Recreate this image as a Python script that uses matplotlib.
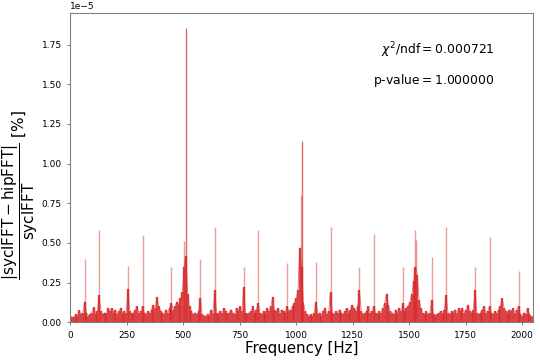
import numpy as np
import matplotlib
matplotlib.use("Agg")
import matplotlib.pyplot as plt

SCALE = 1e-5

# fondo del espectro, un valor cada 8 Hz (en unidades de 1e-5)
BIN_HZ = 8
baseline = [
    0.04, 0.03, 0.035, 0.05, 0.04, 0.075, 0.05, 0.06, 0.13, 0.06, 0.04, 0.05, 0.06, 0.095, 0.05, 0.07,
    0.17, 0.07, 0.05, 0.06, 0.05, 0.09, 0.07, 0.09, 0.06, 0.08, 0.05, 0.07, 0.09, 0.05, 0.07, 0.06,
    0.21, 0.07, 0.05, 0.06, 0.08, 0.10, 0.06, 0.07, 0.10, 0.06, 0.05, 0.07, 0.06, 0.08, 0.11, 0.09,
    0.16, 0.10, 0.07, 0.06, 0.05, 0.08, 0.06, 0.09, 0.12, 0.08, 0.10, 0.13, 0.11, 0.15, 0.19, 0.35,
    0.42, 0.18, 0.10, 0.07, 0.05, 0.06, 0.05, 0.07, 0.15, 0.05, 0.04, 0.04, 0.05, 0.04, 0.08, 0.06,
    0.20, 0.06, 0.05, 0.07, 0.06, 0.09, 0.07, 0.05, 0.06, 0.08, 0.06, 0.05, 0.09, 0.07, 0.10, 0.07,
    0.22, 0.06, 0.05, 0.06, 0.07, 0.10, 0.06, 0.08, 0.12, 0.06, 0.05, 0.07, 0.06, 0.09, 0.07, 0.10,
    0.16, 0.08, 0.07, 0.09, 0.06, 0.08, 0.07, 0.06, 0.10, 0.07, 0.08, 0.10, 0.12, 0.15, 0.20, 0.47,
    0.35, 0.12, 0.07, 0.05, 0.04, 0.05, 0.04, 0.06, 0.13, 0.05, 0.06, 0.04, 0.07, 0.09, 0.05, 0.07,
    0.19, 0.06, 0.05, 0.07, 0.06, 0.08, 0.06, 0.05, 0.07, 0.09, 0.06, 0.08, 0.11, 0.09, 0.07, 0.10,
    0.20, 0.07, 0.05, 0.06, 0.07, 0.10, 0.06, 0.07, 0.10, 0.06, 0.05, 0.07, 0.06, 0.09, 0.12, 0.18,
    0.11, 0.07, 0.06, 0.05, 0.08, 0.06, 0.09, 0.07, 0.12, 0.07, 0.09, 0.10, 0.13, 0.18, 0.26, 0.35,
    0.30, 0.14, 0.09, 0.06, 0.05, 0.07, 0.05, 0.06, 0.14, 0.05, 0.04, 0.05, 0.06, 0.07, 0.05, 0.08,
    0.17, 0.06, 0.05, 0.07, 0.06, 0.08, 0.06, 0.09, 0.07, 0.09, 0.06, 0.08, 0.11, 0.07, 0.06, 0.08,
    0.20, 0.06, 0.05, 0.06, 0.08, 0.10, 0.06, 0.07, 0.10, 0.06, 0.05, 0.07, 0.06, 0.08, 0.10, 0.15,
    0.09, 0.07, 0.06, 0.08, 0.07, 0.09, 0.06, 0.08, 0.10, 0.05, 0.04, 0.06, 0.05, 0.09, 0.05, 0.04,
    0.03,
]

# picos (Hz, valor en 1e-5)
peak_freqs = [64, 128, 256, 320, 448, 504, 512, 576, 640, 768, 832, 960, 1020, 1024,
              1088, 1152, 1280, 1344, 1472, 1524, 1530, 1600, 1664, 1792, 1856, 1984]
peak_vals = [0.40, 0.58, 0.356, 0.55, 0.35, 0.51, 1.857, 0.40, 0.60, 0.35, 0.58, 0.375, 0.80, 1.14,
             0.38, 0.60, 0.35, 0.555, 0.35, 0.58, 0.52, 0.41, 0.60, 0.35, 0.54, 0.32]

chi2_ndf = 0.000721
p_value = 1.000000

freqs = np.arange(len(baseline)) * BIN_HZ
base = np.array(baseline) * SCALE
pk = np.array(peak_vals) * SCALE

fig = plt.figure(figsize=(5.4, 3.6), dpi=100)
ax = fig.add_axes([0.13, 0.105, 0.857, 0.859])

ax.vlines(freqs, 0, base, color="tab:red", lw=1.7, alpha=0.85)
ax.plot(freqs, base, color="tab:red", lw=0.6, alpha=0.6)

for f, v in zip(peak_freqs, pk):
    a = 0.7 if v > 1.0 * SCALE else 0.45
    ax.vlines(f, 0, v, color="tab:red", lw=1.0, alpha=a)

ax.set_xlim(0, 2048)
ax.set_ylim(0, 1.95e-5)

ax.set_xlabel("Frequency [Hz]", fontsize=10.8, labelpad=1)
ax.set_ylabel(r"$\dfrac{|\mathrm{syclFFT} - \mathrm{hipFFT}|}{\mathrm{syclFFT}}$ [%]", fontsize=11)
ax.yaxis.set_label_coords(-0.066, 0.41)

ax.tick_params(labelsize=6.5, colors="0.4", labelcolor="black", length=2.5, width=0.6)
ax.yaxis.get_offset_text().set_fontsize(6.5)
for sp in ax.spines.values():
    sp.set_color("0.5")

ax.text(0.918, 0.88, r"$\chi^2$/ndf$=$" + f"{chi2_ndf:.6f}", transform=ax.transAxes,
        ha="right", va="center", fontsize=8.9)
ax.text(0.918, 0.783, f"p-value$=${p_value:.6f}", transform=ax.transAxes,
        ha="right", va="center", fontsize=8.9)

fig.savefig("out.png", dpi=100)
